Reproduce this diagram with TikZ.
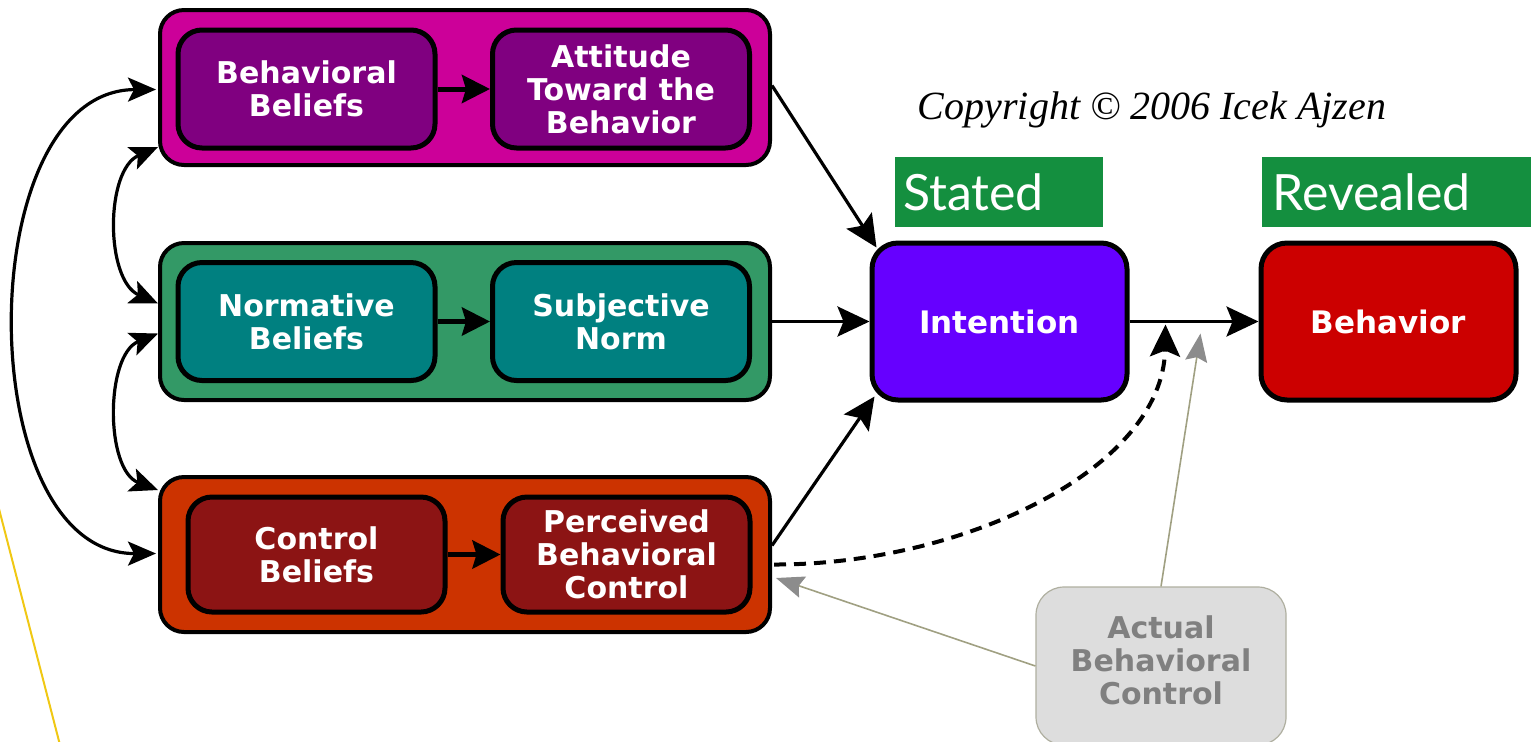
\documentclass[tikz,border=0pt]{standalone}
\usepackage{fontspec}
\usetikzlibrary{arrows.meta,calc}
\newfontfamily\boxfont{DejaVu Sans}
\newfontfamily\labfont{Lato}
\newfontfamily\copyfont{Liberation Serif}
\definecolor{cmag}{RGB}{204,0,153}
\definecolor{cpur}{RGB}{128,0,128}
\definecolor{cgrn}{RGB}{51,153,102}
\definecolor{cteal}{RGB}{0,128,128}
\definecolor{corg}{RGB}{204,51,0}
\definecolor{cdred}{RGB}{140,20,20}
\definecolor{cint}{RGB}{102,0,255}
\definecolor{cbeh}{RGB}{204,0,0}
\definecolor{clab}{RGB}{20,143,63}
\definecolor{cact}{RGB}{221,221,221}
\definecolor{cactd}{RGB}{175,175,160}
\definecolor{cactt}{RGB}{128,128,128}
\definecolor{cgline}{RGB}{160,160,130}
\definecolor{cgarrow}{RGB}{140,140,140}
\definecolor{cyel}{RGB}{240,200,20}
\tikzset{
  outerbox/.style={draw=black, line width=2pt, rounded corners=12pt, minimum width=305pt, minimum height=77.5pt},
  innerbox/.style={draw=black, line width=2.5pt, rounded corners=12pt, minimum width=128.5pt, minimum height=59pt,
     text=white, align=center, font=\boxfont\bfseries\fontsize{15}{16.5}\selectfont, inner sep=0pt},
  bigbox/.style={draw=black, line width=2.5pt, rounded corners=13pt, minimum width=127.5pt, minimum height=78.5pt,
     text=white, font=\boxfont\bfseries\fontsize{15.5}{17}\selectfont},
  labbox/.style={fill=clab, text=white, font=\labfont\fontsize{25}{27}\selectfont, minimum height=35pt, inner sep=0pt},
  conn/.style={line width=1.6pt, -{Stealth[length=16pt,width=15pt,inset=3pt]}},
  iconn/.style={line width=2.5pt, -{Stealth[length=14pt,width=14pt,inset=2pt]}},
  dconn/.style={line width=1.6pt, {Stealth[length=14pt,width=12pt,inset=3pt]}-{Stealth[length=14pt,width=12pt,inset=3pt]}},
  gconn/.style={line width=0.8pt, draw=cgline, -{Stealth[length=14pt,width=11pt,inset=2pt,fill=cgarrow,color=cgarrow]}},
}
\begin{document}
\begin{tikzpicture}[x=0.5pt,y=-0.5pt]
\useasboundingbox (0,0) rectangle (1531,741);
% outer boxes
\node[outerbox, fill=cmag] (top) at (465,87.5) {};
\node[outerbox, fill=cgrn, minimum height=78.5pt] (mid) at (465,321.5) {};
\node[outerbox, fill=corg] (bot) at (465,554.5) {};
% inner boxes
\node[innerbox, fill=cpur] (bb) at (306.5,89) {Behavioral\\Beliefs};
\node[innerbox, fill=cpur] (att) at (621,89) {Attitude\\Toward the\\Behavior};
\node[innerbox, fill=cteal] (nb) at (306.5,321.5) {Normative\\Beliefs};
\node[innerbox, fill=cteal] (sn) at (621,321.5) {Subjective\\Norm};
\node[innerbox, fill=cdred, minimum height=57.5pt] (cb) at (316.5,554.5) {Control\\Beliefs};
\node[innerbox, fill=cdred, minimum height=57.5pt, minimum width=123.5pt] (pbc) at (626.5,554.5) {Perceived\\Behavioral\\Control};
% intention / behavior
\node[bigbox, fill=cint] (int) at (999.5,321.5) {Intention};
\node[bigbox, fill=cbeh] (beh) at (1388.5,321.5) {Behavior};
% labels
\node[labbox, minimum width=104pt, text width=96pt, align=left] (stated) at (999,192) {Stated};
\node[labbox, minimum width=134.5pt, text width=124pt, align=left] (rev) at (1396.5,192) {Revealed};
\node[font=\copyfont\itshape\fontsize{20}{22}\selectfont, inner sep=0pt] (copy) at (1152,110) {Copyright \textcopyright{} 2006 Icek Ajzen};
% actual behavioral control
\node[draw=cactd, line width=0.6pt, fill=cact, rounded corners=14pt, minimum width=125pt, minimum height=79pt, inner sep=0pt] (act) at (1161,666) {};
\node[text=cactt, align=center, font=\boxfont\bfseries\fontsize{15}{16.5}\selectfont, inner sep=0pt] (acttxt) at (1161,660) {Actual\\Behavioral\\Control};
% inner arrows
\draw[iconn] (bb) -- (att);
\draw[iconn] (nb) -- (sn);
\draw[iconn] (cb) -- (pbc);
% arrows to intention
\draw[conn] ($(top.east)+(0,-2)$) -- ($(int.north west)+(7,7)$);
\draw[conn] (mid.east) -- (int.west);
\draw[conn] ($(bot.east)+(0,-9)$) -- ($(int.south west)+(5,-6)$);
\draw[conn] (int.east) -- (beh.west);
% dashed PBC -> intention-behavior link
\draw[conn, line width=2pt, dash pattern=on 6pt off 4pt] ($(bot.east)+(2,10)$) .. controls (960,565) and (1163,470) .. ($(int.east)+(36,3)$);
% actual control connectors
\draw[gconn] (act.north) -- ($(int.east)+(71,12)$);
\draw[gconn] (act.west) -- ($(bot.east)+(4,23.5)$);
% left correlational curves
\draw[dconn] ($(top.west)+(-2,2)$) .. controls (-30,90) and (-30,554) .. ($(bot.west)+(-2,-1)$);
\draw[dconn] ($(top.south west)+(0,-20)$) .. controls (105,170) and (105,280) .. ($(mid.west)+(0,-18)$);
\draw[dconn] ($(mid.west)+(0,12)$) .. controls (105,355) and (105,470) .. ($(bot.north west)+(0,15)$);
% yellow line
\coordinate (y1) at (-2,505);
\coordinate (y2) at (60,745);
\draw[cyel, line width=1pt] (y1) -- (y2);
\end{tikzpicture}
\end{document}
